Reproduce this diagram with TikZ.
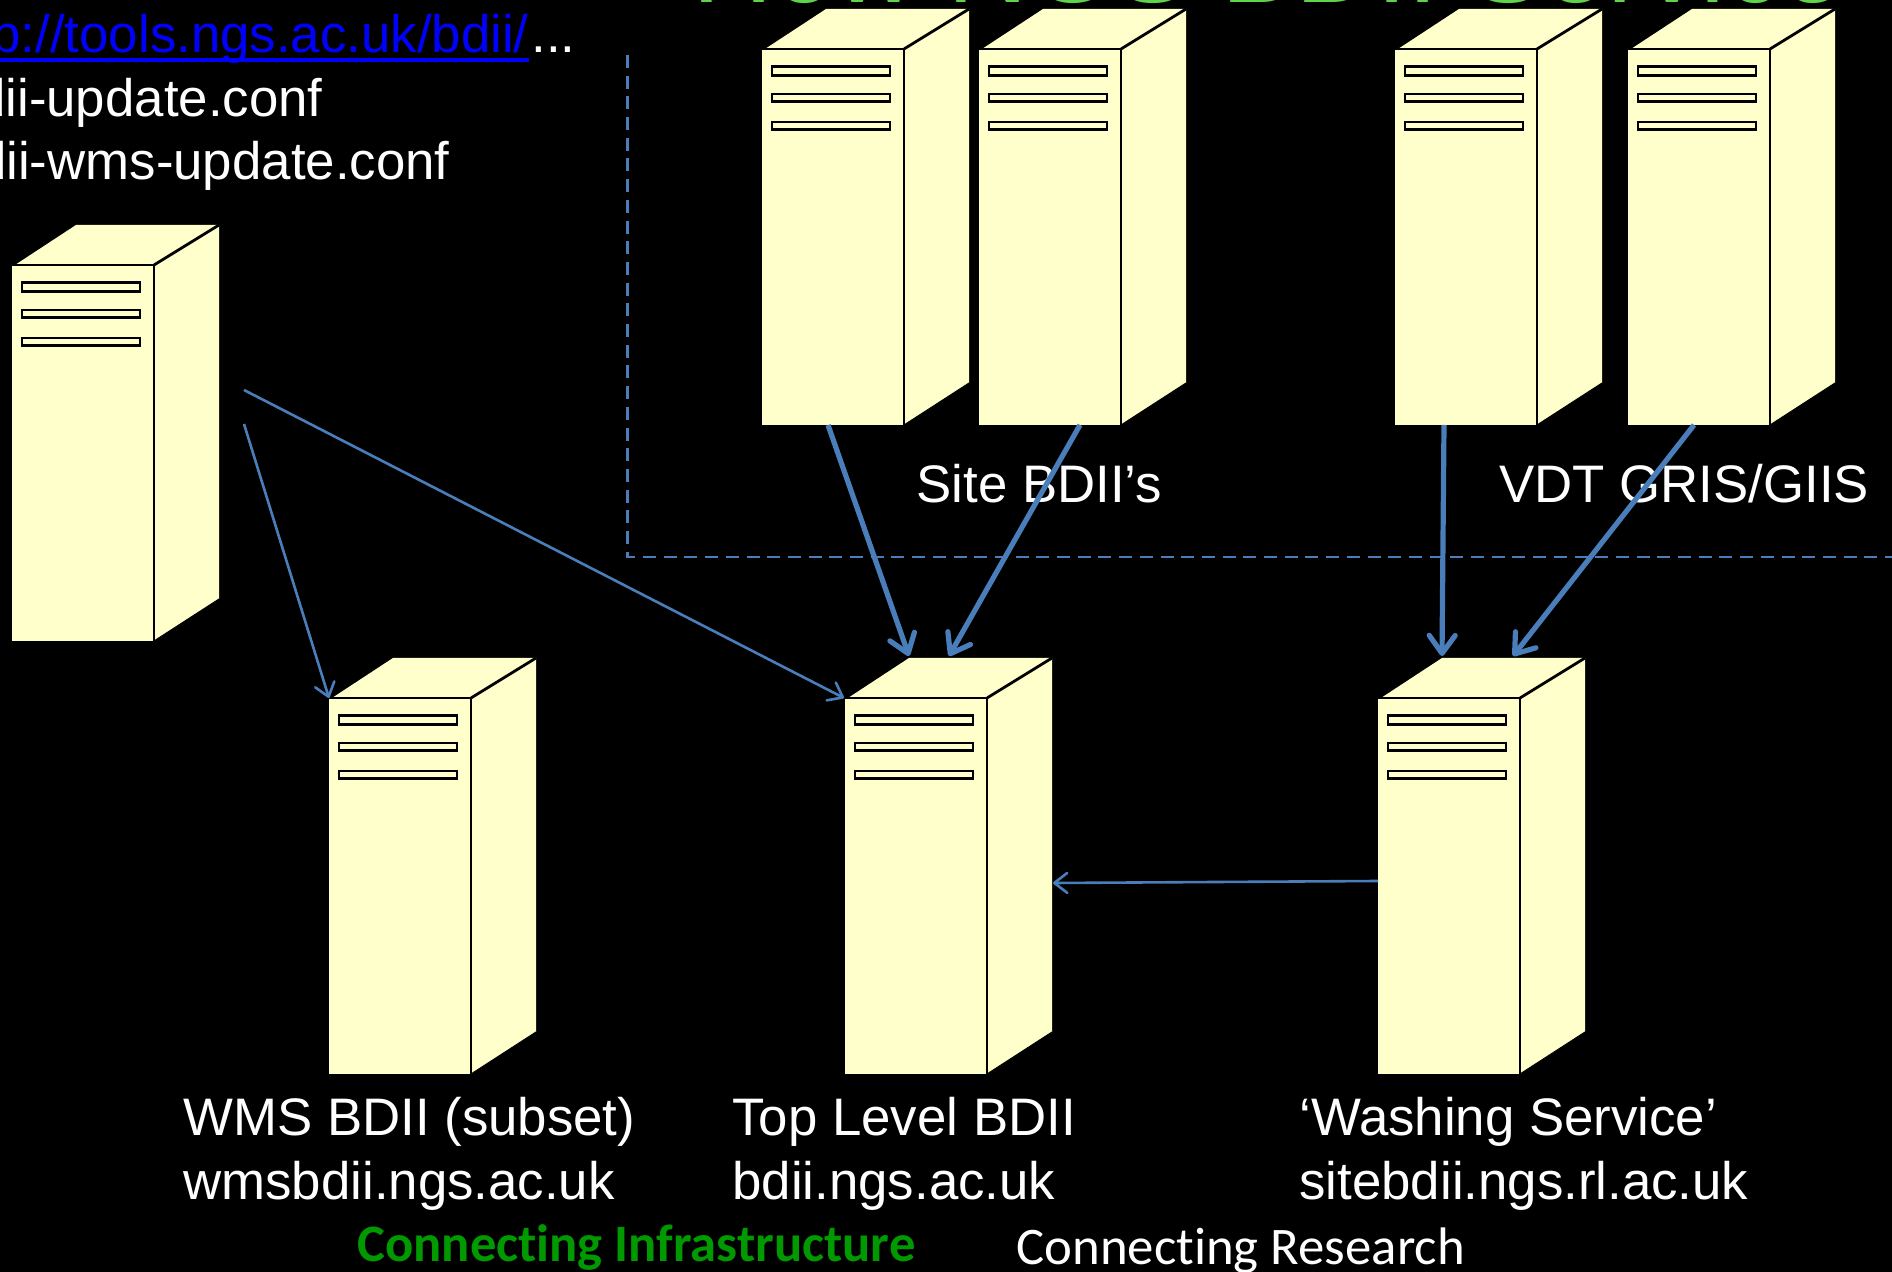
\documentclass[tikz,border=0pt]{standalone}
\usepackage{fontspec}
\setmainfont{Liberation Sans}
\newfontfamily\footfont[Ligatures=NoCommon]{Carlito}
\usetikzlibrary{arrows.meta}
\definecolor{cream}{HTML}{FFFFCC}
\definecolor{linkblue}{HTML}{4A7EBB}
\definecolor{titlegreen}{HTML}{5FD34A}
\definecolor{footgreen}{HTML}{009900}
\definecolor{hyper}{HTML}{0000FF}
\tikzset{
  front/.style={fill=cream,draw=none,minimum width=71pt,minimum height=188pt,inner sep=0pt,outer sep=0pt,anchor=south west},
  faceedge/.style={draw=black,line width=1.4pt},
  thinedge/.style={draw=black,line width=0.5pt},
  slotbox/.style={draw=black,fill=cream,line width=1.15pt},
  label/.style={text=white,anchor=base west,inner sep=0pt,font=\fontsize{26.4}{31}\selectfont},
  thick link/.style={draw=linkblue,line width=2.6pt,-{Straight Barb[length=9pt,width=13pt,round]}},
  thin link/.style={draw=linkblue,line width=1.3pt,-{Straight Barb[length=6.5pt,width=10pt,round]}},
  region/.style={draw=linkblue,line width=1.1pt,dash pattern=on 6.5pt off 3.85pt}
}
\newcommand{\serverbox}[3]{%
  \begin{scope}[shift={(#2,#3)}]
    \fill[cream] (3,-376) -- (64,-416) -- (207,-416) -- (207,-42) -- (142,0) -- (142,-376) -- cycle;
    \node[front] (#1) at (0,0) {};
    \coordinate (#1back) at (64,-416);
    \draw[faceedge] (0,-376) -- (142,-376) -- (142,0);
    \draw[faceedge] (142,-376) -- (207,-416);
    \draw[thinedge] (142,0) -- (207,-42);
    \draw[slotbox] (10,-358.5) rectangle (128,-349.5);
    \draw[slotbox] (10,-331) rectangle (128,-323.5);
    \draw[slotbox] (10,-303) rectangle (128,-295.5);
  \end{scope}}
\begin{document}
\begin{tikzpicture}[x=0.5pt,y=-0.5pt]
\useasboundingbox (0,0) rectangle (1892,1272);
\fill[black] (0,0) rectangle (1892,1272);
\clip (0,0) rectangle (1892,1272);

\node[anchor=base west,inner sep=0pt,text=titlegreen,font=\fontsize{56}{60}\selectfont] (title) at (692,3) {How NGS BDII Service};

\node[anchor=base east,inner sep=0pt,text=hyper,font=\fontsize{26.4}{31}\selectfont] (url) at (529,53) {http://tools.ngs.ac.uk/bdii/};
\fill[hyper] (0,58.5) rectangle (529,62);
\node[label] (dots) at (531,53) {...};
\node[anchor=base east,inner sep=0pt,text=white,font=\fontsize{26.4}{31}\selectfont] (conf) at (323,116.5) {bdii-update.conf};
\node[anchor=base east,inner sep=0pt,text=white,font=\fontsize{26.4}{31}\selectfont] (wmsconf) at (450,179.5) {bdii-wms-update.conf};

\draw[region] (627.5,55) -- (627.5,557) -- (1892,557);

\serverbox{src}{12}{641}
\serverbox{siteA}{762}{425}
\serverbox{siteB}{979}{425}
\serverbox{vdtA}{1395}{425}
\serverbox{vdtB}{1628}{425}
\serverbox{wms}{329}{1074}
\serverbox{top}{845}{1074}
\serverbox{wash}{1378}{1074}

\node[label] (sitelabel) at (916,503) {Site BDII’s};
\node[label] (vdtlabel) at (1499,503) {VDT GRIS/GIIS};
\node[label] (wmsA) at (183,1135.5) {WMS BDII (subset)};
\node[label] (wmsB) at (183,1199) {wmsbdii.ngs.ac.uk};
\node[label] (topA) at (732,1135.5) {Top Level BDII};
\node[label] (topB) at (732,1199) {bdii.ngs.ac.uk};
\node[label] (washA) at (1299,1135.5) {‘Washing Service’};
\node[label] (washB) at (1299,1199) {sitebdii.ngs.rl.ac.uk};

\node[anchor=base west,inner sep=0pt,text=footgreen,font=\footfont\bfseries\fontsize{26.3}{30}\selectfont] (footA) at (357,1261.5) {Connecting Infrastructure};
\node[anchor=base west,inner sep=0pt,text=white,font=\footfont\fontsize{26.4}{30}\selectfont] (footB) at (1016,1264) {Connecting Research};

\coordinate (srcA) at (244,390);
\coordinate (srcB) at (244,424);
\draw[thick link] ([xshift=-2.5pt]siteA.south) -- ([yshift=1pt]topback);
\draw[thick link] ([xshift=15pt]siteB.south) -- ([xshift=20pt,yshift=1pt]topback);
\draw[thick link] ([xshift=-11pt]vdtA.south) -- ([yshift=1pt]washback);
\draw[thick link] ([xshift=-2.5pt]vdtB.south) -- ([xshift=35.5pt,yshift=1pt]washback);
\draw[thin link] (srcB) -- (wms.north west);
\draw[thin link] (srcA) -- ([xshift=-0.5pt]top.north west);
\draw[thin link] ([yshift=2.5pt]wash.west) -- ([yshift=1.5pt,xshift=33pt]top.east);
\end{tikzpicture}
\end{document}
